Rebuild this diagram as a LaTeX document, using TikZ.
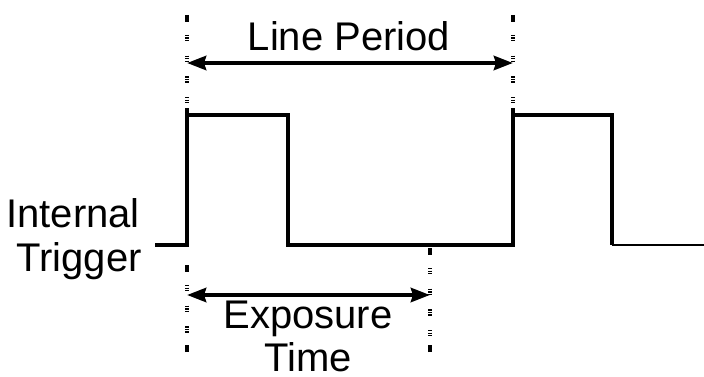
\documentclass[tikz,border=0pt]{standalone}
\usepackage{fontspec}
\setmainfont{Liberation Sans}
\usetikzlibrary{arrows.meta,calc}
\begin{document}
\begin{tikzpicture}[x=1pt,y=-1pt,
  sig/.style={line width=4.2pt,line join=miter},
  guide/.style={line width=4pt,dash pattern=on 1.3pt off 1.2pt on 1.3pt off 1.2pt on 1.3pt off 14.4pt},
  endmark/.style={line width=4pt},
  dim/.style={line width=4.2pt,{Stealth[length=19pt,width=14pt,inset=2pt]}-{Stealth[length=19pt,width=14pt,inset=2pt]}},
  lbl/.style={font=\fontsize{40}{46}\selectfont,inner sep=0pt}]
\useasboundingbox (0,0) rectangle (704,377);
% signal
\coordinate (s0) at (155,245);
\coordinate (s1) at (187,245);
\coordinate (s2) at (187,115);
\coordinate (s3) at (288,115);
\coordinate (s4) at (288,245);
\coordinate (s5) at (513,245);
\coordinate (s6) at (513,115);
\coordinate (s7) at (612,115);
\coordinate (s8) at (612,245);
\coordinate (s9) at (704,245);
\draw[sig] (s0) -- (s1) -- (s2) -- (s3) -- (s4) -- (s5) -- (s6) -- (s7) -- (s8);
\draw[line width=2.5pt] (s8) -- (s9);
% guide lines
\coordinate (gA1) at (187,15);  \coordinate (gA2) at (187,115);
\coordinate (gB1) at (513,15);  \coordinate (gB2) at (513,115);
\coordinate (gC1) at (187,265); \coordinate (gC2) at (187,352);
\coordinate (gD1) at (430,248); \coordinate (gD2) at (430,352);
\foreach \a/\b in {gA1/gA2,gB1/gB2,gC1/gC2,gD1/gD2}{
  \draw[endmark] (\a) -- ++(0,7);
  \draw[endmark] (\b) -- ++(0,-7);
  \draw[guide,dash phase=-13pt] ($(\a)+(0,7)$) -- ($(\b)+(0,-7)$);
}
% dimension arrows
\coordinate (pL) at (187,63); \coordinate (pR) at (513,63);
\coordinate (eL) at (187,295); \coordinate (eR) at (430,295);
\draw[dim] (pL) -- (pR);
\draw[dim] (eL) -- (eR);
% labels
\node[lbl,anchor=base] (lp) at (349,51) {Line Period};
\node[lbl,anchor=base east] (it1) at (140,227) {Internal};
\node[lbl,anchor=base east] (it2) at (142,271) {Trigger};
\node[lbl,anchor=base] (ex1) at (308,328) {Exposure};
\node[lbl,anchor=base,text depth=0pt] (ex2) at (308,371) {Time};
\end{tikzpicture}
\end{document}
